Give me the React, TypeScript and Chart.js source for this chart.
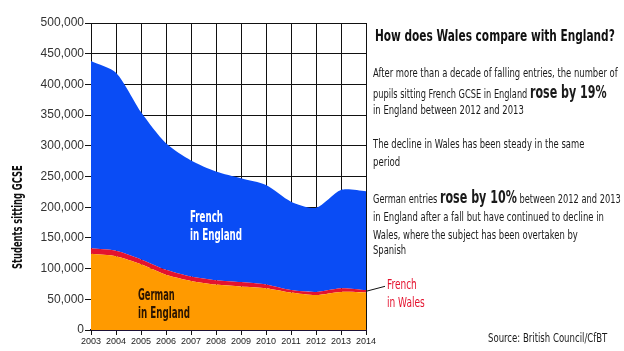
import React, { useEffect, useLayoutEffect, useRef } from "react";
import { Chart, registerables } from "chart.js";

Chart.register(...registerables);

const years = ["2003", "2004", "2005", "2006", "2007", "2008", "2009", "2010", "2011", "2012", "2013", "2014"];
// German in England (bottom layer)
const germanEngland = [124000, 120000, 107000, 90000, 80000, 74000, 71000, 68000, 61000, 57000, 62000, 61000];
// French in Wales (middle layer)
const frenchWales = [9000, 9000, 8000, 8000, 7000, 7000, 7000, 6000, 4000, 5000, 6000, 4000];
// French in England (top layer)
const frenchEngland = [305000, 290000, 240000, 206000, 189000, 177000, 169000, 162000, 144000, 137000, 160000, 161000];

const yTickValues = [0, 50000, 100000, 150000, 200000, 250000, 300000, 350000, 400000, 450000, 500000];

const COND = '"Liberation Sans Narrow", "DejaVu Sans Condensed", "Arial Narrow", sans-serif';

const leaderPlugin = {
  id: "leader",
  afterDatasetsDraw(chart: any) {
    const { ctx, scales } = chart;
    const last = years.length - 1;
    const x = scales.x.getPixelForValue(last);
    const yv = germanEngland[last] + frenchWales[last] / 2;
    const y = scales.y.getPixelForValue(yv);
    ctx.save();
    ctx.strokeStyle = "#111";
    ctx.lineWidth = 1;
    ctx.beginPath();
    ctx.moveTo(x, y);
    ctx.lineTo(x + 19, y - 5);
    ctx.stroke();
    ctx.restore();
  },
};

function Fit(props: { x: number; y: number; w: number; style?: any; children: any }) {
  const r = useRef<HTMLDivElement>(null);
  useLayoutEffect(() => {
    const el = r.current!;
    const nat = el.offsetWidth;
    if (nat > 0) el.style.transform = `scaleX(${props.w / nat})`;
  }, []);
  return (
    <div
      ref={r}
      style={{
        position: "absolute",
        left: props.x,
        top: props.y,
        whiteSpace: "nowrap",
        fontFamily: COND,
        transformOrigin: "left top",
        ...props.style,
      }}
    >
      {props.children}
    </div>
  );
}

export default function App() {
  const ref = useRef<HTMLCanvasElement>(null);
  useEffect(() => {
    const chart = new Chart(ref.current!, {
      type: "line",
      data: {
        labels: years,
        datasets: [
          { label: "German in England", data: germanEngland, backgroundColor: "#FF9A00", fill: "origin", borderWidth: 0, pointRadius: 0, tension: 0.25 },
          { label: "French in Wales", data: frenchWales, backgroundColor: "#E4122E", fill: "-1", borderWidth: 0, pointRadius: 0, tension: 0.25 },
          { label: "French in England", data: frenchEngland, backgroundColor: "#0A4CF5", fill: "-1", borderWidth: 0, pointRadius: 0, tension: 0.25 },
        ],
      },
      options: {
        animation: false,
        responsive: false,
        maintainAspectRatio: false,
        layout: { padding: { left: 0, right: 258, top: 23, bottom: 0 } },
        plugins: { legend: { display: false }, tooltip: { enabled: false } },
        elements: { line: { borderWidth: 0 } },
        scales: {
          x: {
            offset: false,
            afterFit: (s: any) => { s.height = 21; },
            grid: { color: "#111", lineWidth: 1, tickLength: 5, tickColor: "#111", drawOnChartArea: true },
            border: { display: true, color: "#1b1035", width: 2 },
            ticks: { color: "#222", font: { family: '"Liberation Sans", Arial, sans-serif', size: 9 }, padding: 1, maxRotation: 0, autoSkip: false },
          },
          y: {
            stacked: true,
            min: 0,
            max: 500000,
            afterFit: (s: any) => { s.width = 91; },
            afterBuildTicks: (s: any) => {
              const t = [];
              for (let v = 0; v <= 500000; v += 25000) t.push({ value: v });
              s.ticks = t;
            },
            grid: {
              color: (c: any) => (c.tick && c.tick.value % 50000 === 0 ? "#111" : "#b8b8b8"),
              tickColor: (c: any) => (c.tick && c.tick.value % 50000 === 0 ? "#111" : "rgba(0,0,0,0)"),
              lineWidth: 1,
              tickLength: 6,
            },
            border: { display: true, color: "#111", width: 1 },
            ticks: {
              color: "#333",
              padding: 1,
              font: { family: '"Liberation Sans", Arial, sans-serif', size: 12 },
              callback: (v: any) => (yTickValues.includes(Number(v)) ? Number(v).toLocaleString("en-US") : ""),
            },
          },
        },
      },
      plugins: [leaderPlugin],
    });
    return () => chart.destroy();
  }, []);

  const body = { fontSize: 13, color: "#1a1a1a", lineHeight: "15px" };
  const big = { fontSize: 17.5, fontWeight: "bold" as const };

  return (
    <div style={{ position: "absolute", left: 0, top: 0, width: 624, height: 351, background: "#fff", overflow: "hidden" }}>
      <canvas ref={ref} width={624} height={351} style={{ position: "absolute", left: 0, top: 0, width: 624, height: 351 }} />
      <div style={{ position: "absolute", left: 9, top: 269, width: 0, height: 0, transform: "rotate(-90deg)", transformOrigin: "0 0" }}>
        <Fit x={0} y={0} w={104} style={{ fontWeight: "bold", fontSize: 14, color: "#111", lineHeight: "17px" }}>Students sitting GCSE</Fit>
      </div>

      <Fit x={190} y={208} w={33} style={{ fontWeight: "bold", fontSize: 15.5, color: "#fff", lineHeight: "18px" }}>French</Fit>
      <Fit x={190} y={226} w={52} style={{ fontWeight: "bold", fontSize: 15.5, color: "#fff", lineHeight: "18px" }}>in England</Fit>
      <Fit x={138} y={286} w={37} style={{ fontWeight: "bold", fontSize: 15.5, color: "#2a1400", lineHeight: "18px" }}>German</Fit>
      <Fit x={138} y={304} w={52} style={{ fontWeight: "bold", fontSize: 15.5, color: "#2a1400", lineHeight: "18px" }}>in England</Fit>
      <Fit x={387} y={275} w={30} style={{ fontSize: 14, color: "#E4122E", lineHeight: "18px" }}>French</Fit>
      <Fit x={387} y={293} w={38} style={{ fontSize: 14, color: "#E4122E", lineHeight: "18px" }}>in Wales</Fit>

      <Fit x={375} y={26} w={240} style={{ fontWeight: "bold", fontSize: 16, color: "#111" }}>How does Wales compare with England?</Fit>

      <Fit x={373} y={65} w={245} style={body}>After more than a decade of falling entries, the number of</Fit>
      <Fit x={373} y={85} w={234} style={body}>pupils sitting French GCSE in England <span style={big}>rose by 19%</span></Fit>
      <Fit x={373} y={102} w={151} style={body}>in England between 2012 and 2013</Fit>

      <Fit x={373} y={136} w={211} style={body}>The decline in Wales has been steady in the same</Fit>
      <Fit x={373} y={154} w={27} style={body}>period</Fit>

      <Fit x={373} y={190} w={248} style={body}>German entries <span style={big}>rose by 10%</span> between 2012 and 2013</Fit>
      <Fit x={373} y={209} w={231} style={body}>in England after a fall but have continued to decline in</Fit>
      <Fit x={373} y={227} w={205} style={body}>Wales, where the subject has been overtaken by</Fit>
      <Fit x={373} y={242} w={33} style={body}>Spanish</Fit>

      <Fit x={488} y={330} w={119} style={{ ...body, fontSize: 13 }}>Source: British Council/CfBT</Fit>
    </div>
  );
}
